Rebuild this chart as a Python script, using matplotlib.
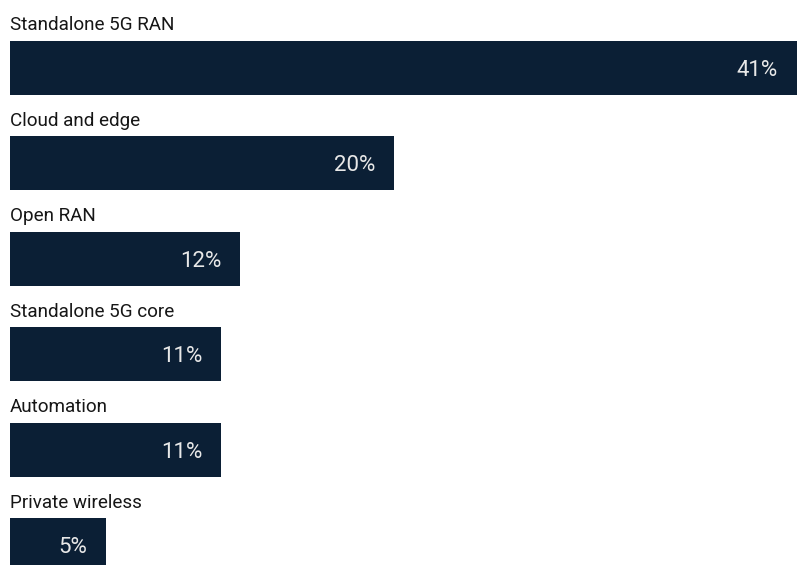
import matplotlib
matplotlib.use("Agg")
import matplotlib.pyplot as plt

categories = ["Standalone 5G RAN", "Cloud and edge", "Open RAN",
              "Standalone 5G core", "Automation", "Private wireless"]
values = [41, 20, 12, 11, 11, 5]
value_labels = ["41%", "20%", "12%", "11%", "11%", "5%"]

BAR_COLOR = "#0b1f35"
W, H, DPI = 798, 565, 100

fig = plt.figure(figsize=(W / DPI, H / DPI), dpi=DPI)
ax = fig.add_axes([10 / W, 0, (797 - 10) / W, 1])

step_px = 95.4
top_px = 68
ylow = (H - top_px) / step_px
yhigh = -top_px / step_px
bar_h = 54 / step_px

ys = list(range(len(categories)))
ax.barh(ys, values, height=bar_h, color=BAR_COLOR, clip_on=False)
ax.set_xlim(0, max(values))
ax.set_ylim(ylow, yhigh)
ax.axis("off")

font = "Roboto"
pad = 19 / (787 / max(values))
for y, cat, v, lab in zip(ys, categories, values, value_labels):
    ax.text(0, y - bar_h / 2 - 10.5 / step_px, cat, ha="left", va="baseline",
            fontsize=13.6, color="#161616", family=font)
    ax.text(v - pad, y, lab, ha="right", va="center_baseline",
            fontsize=16, color="#e8e8e8", family=font)

fig.savefig("out.png", dpi=DPI)
